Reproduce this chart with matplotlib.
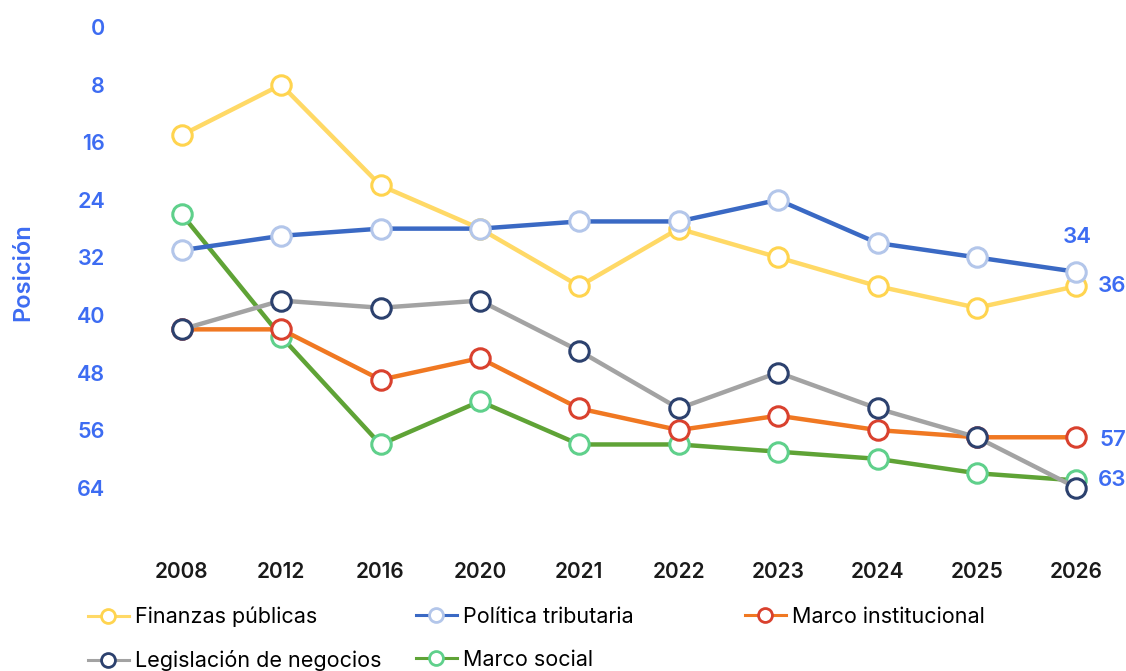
import matplotlib.pyplot as plt
from matplotlib.lines import Line2D

plt.rcParams['font.family'] = ['Inter', 'DejaVu Sans']

years = ['2008', '2012', '2016', '2020', '2021', '2022', '2023', '2024', '2025', '2026']
y_ticks = [0, 8, 16, 24, 32, 40, 48, 56, 64]

finanzas = [15, 8, 22, 28, 36, 28, 32, 36, 39, 36]
tributaria = [31, 29, 28, 28, 27, 27, 24, 30, 32, 34]
institucional = [42, 42, 49, 46, 53, 56, 54, 56, 57, 57]
negocios = [42, 38, 39, 38, 45, 53, 48, 53, 57, 64]
social = [26, 43, 58, 52, 58, 58, 59, 60, 62, 63]

end_labels = ['34', '36', '57', '63']

blue_txt = '#3d6cf2'

# (label, values, line colour, marker edge colour, zorder)
series = [
    ('Finanzas públicas', finanzas, '#ffd966', '#ffd44f', 2),
    ('Política tributaria', tributaria, '#3a69c4', '#b3c6ea', 6),
    ('Marco institucional', institucional, '#f07822', '#d9412e', 4),
    ('Legislación de negocios', negocios, '#a3a3a3', '#2c416e', 5),
    ('Marco social', social, '#5fa336', '#5fd08b', 3),
]

fig = plt.figure(figsize=(11.26, 6.71), dpi=100)
ax = fig.add_axes([0.1155, 0.195, 0.8845, 0.787])

x = list(range(len(years)))
handles = {}
for label, vals, lc, mc, z in series:
    ax.plot(x, vals, color=lc, lw=3.2, marker='o', ms=14, mfc='white',
            mec=mc, mew=2.2, zorder=z, clip_on=False)
    handles[label] = Line2D([], [], color=lc, lw=2.2, marker='o', ms=10,
                            mfc='white', mec=mc, mew=2, label=label)

# end labels
lab = dict(ha='center', va='center', color=blue_txt, fontsize=16,
           fontweight='semibold', textcoords='offset points')
ax.annotate(end_labels[0], (9, tributaria[-1]), xytext=(1, 25), **lab)
ax.annotate(end_labels[1], (9, finanzas[-1]), xytext=(26, 0), **lab)
ax.annotate(end_labels[2], (9, institucional[-1]), xytext=(26, -2), **lab)
ax.annotate(end_labels[3], (9, social[-1]), xytext=(26, 0), **lab)

ax.set_xlim(-0.52, 9.5)
ax.set_ylim(71.3, -2.1)
ax.set_xticks(x)
ax.set_xticklabels(years, fontsize=15, fontweight='semibold', color='#1a1a1a')
ax.set_yticks(y_ticks)
ax.set_yticklabels([str(t) for t in y_ticks], fontsize=15.5, fontweight='semibold', color=blue_txt)
ax.tick_params(length=0, pad=18, axis='y')
ax.tick_params(length=0, pad=16, axis='x')
for s in ax.spines.values():
    s.set_visible(False)

fig.text(0.021, 0.595, 'Posición', rotation=90, ha='center', va='center',
         fontsize=17, fontweight='semibold', color=blue_txt)

# legend as three columns placed at the reference's column positions
columns = [
    (['Finanzas públicas', 'Legislación de negocios'], 88),
    (['Política tributaria', 'Marco social'], 416),
    (['Marco institucional'], 745),
]
for names, px in columns:
    fig.legend(handles=[handles[k] for k in names], loc='upper left',
               bbox_to_anchor=(px / 1126, 0.096), bbox_transform=fig.transFigure,
               frameon=False, fontsize=15.5, borderaxespad=0, borderpad=0,
               handlelength=1.9, handletextpad=0.3, labelspacing=1.08)

fig.savefig('out.png', dpi=100)
